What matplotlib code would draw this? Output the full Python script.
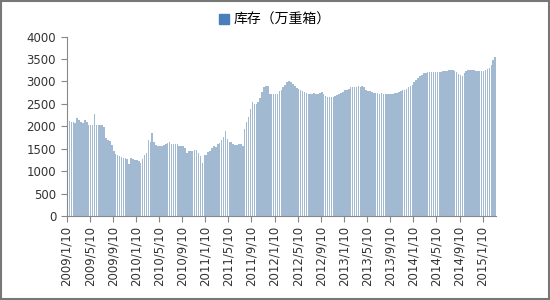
import matplotlib.pyplot as plt
import matplotlib.patches as mpatches
import numpy as np

plt.rcParams['font.family'] = ['DejaVu Sans', 'Noto Sans CJK SC']

# 库存（万重箱），旬度数据 2009/1/10 - 2015/3/10
kucun = [
    2130, 2120, 2090, 2090, 2080, 2180, 2150, 2100, 2070, 2140,
    2100, 2020, 2020, 2030, 2270, 2030, 2030, 2020, 2020, 1990,
    1740, 1700, 1680, 1590, 1440, 1390, 1370, 1330, 1320, 1300,
    1300, 1260, 1170, 1300, 1270, 1250, 1240, 1220, 1190, 1260,
    1360, 1400, 1700, 1660, 1860, 1640, 1580, 1550, 1550, 1560,
    1580, 1600, 1630, 1650, 1610, 1610, 1600, 1610, 1570, 1560,
    1560, 1510, 1400, 1440, 1460, 1460, 1470, 1480, 1410, 1330,
    1190, 1360, 1370, 1420, 1440, 1510, 1560, 1540, 1610, 1620,
    1690, 1770, 1900, 1720, 1650, 1640, 1600, 1580, 1590, 1610,
    1610, 1570, 1950, 2100, 2200, 2380, 2550, 2490, 2490, 2550,
    2620, 2770, 2880, 2900, 2890, 2730, 2720, 2720, 2710, 2730,
    2790, 2800, 2880, 2920, 2980, 3000, 2990, 2950, 2900, 2860,
    2840, 2800, 2780, 2760, 2740, 2730, 2730, 2730, 2740, 2730,
    2730, 2750, 2770, 2720, 2670, 2660, 2650, 2660, 2660, 2670,
    2690, 2720, 2740, 2770, 2800, 2820, 2830, 2870, 2880, 2880,
    2880, 2890, 2880, 2900, 2870, 2810, 2790, 2780, 2770, 2750,
    2740, 2740, 2730, 2740, 2720, 2720, 2720, 2720, 2720, 2730,
    2740, 2750, 2770, 2790, 2800, 2820, 2840, 2870, 2900, 2930,
    2980, 3040, 3080, 3120, 3150, 3180, 3190, 3200, 3210, 3210,
    3210, 3210, 3220, 3220, 3220, 3230, 3230, 3240, 3250, 3250,
    3250, 3230, 3200, 3170, 3150, 3120, 3190, 3240, 3250, 3250,
    3250, 3250, 3240, 3240, 3240, 3240, 3240, 3250, 3280, 3300,
    3370, 3480, 3540,
]

# 每隔12旬一个标签
fechas = [
    '2009/1/10', '2009/5/10', '2009/9/10', '2010/1/10', '2010/5/10',
    '2010/9/10', '2011/1/10', '2011/5/10', '2011/9/10', '2012/1/10',
    '2012/5/10', '2012/9/10', '2013/1/10', '2013/5/10', '2013/9/10',
    '2014/1/10', '2014/5/10', '2014/9/10', '2015/1/10',
]

fig = plt.figure(figsize=(5.5, 3), dpi=100)
ax = fig.add_axes([0.121, 0.28, 0.781, 0.598])

x = np.arange(len(kucun))
ax.bar(x, kucun, width=0.8, color='#a2bad1', linewidth=0)

ax.set_xlim(-0.5, len(kucun) - 0.5)
ax.set_ylim(0, 4000)
ax.set_yticks(range(0, 4001, 500))
ax.set_xticks(np.arange(len(fechas)) * 12 - 0.5)
ax.set_xticklabels(fechas, rotation=90, fontsize=8.5, color='#333333')
ax.tick_params(axis='y', labelsize=8.5, labelcolor='#333333', length=4, color='#888888')
ax.tick_params(axis='x', length=4, color='#888888', pad=3)

for s in ['top', 'right']:
    ax.spines[s].set_visible(False)
for s in ['left', 'bottom']:
    ax.spines[s].set_color('#888888')

# 图例
handle = mpatches.Patch(color='#4a7ebb', label='库存（万重箱）')
fig.legend(handles=[handle], loc='center', bbox_to_anchor=(0.5, 0.933), frameon=False,
           prop={'family': 'Noto Sans CJK SC', 'size': 10}, handlelength=0.7, handleheight=0.7,
           handletextpad=0.3)

# 外框
fig.patches.append(mpatches.Rectangle((0.002, 0.004), 0.996, 0.992, transform=fig.transFigure,
                                      fill=False, edgecolor='#777777', linewidth=1.5))

fig.savefig('out.png', dpi=100)
